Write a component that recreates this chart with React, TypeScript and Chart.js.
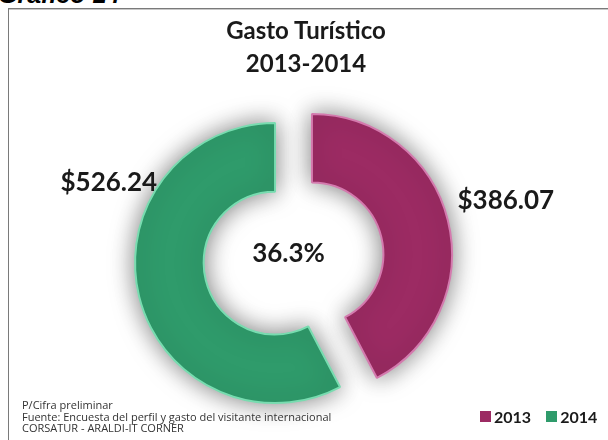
import React, { useEffect, useRef } from "react";
import { Chart, registerables } from "chart.js";

Chart.register(...registerables);

const CATEGORIES = ["2013", "2014"];
const GASTO = [386.07, 526.24];
const COLORS = ["#9c2b63", "#2f9b6b"];
const BORDERS = ["#d47aae", "#78dcb0"];
const TITLE_LINES = ["Gasto Turístico", "2013-2014"];
const HEADER = "Gráfico 14";
const NOTES = [
  "P/Cifra preliminar",
  "Fuente: Encuesta del perfil y gasto del visitante internacional",
  "CORSATUR - ARALDI-IT CORNER",
];

const EXPLODE = 19;
const LABEL_FONT = "bold 26px Lato";

const explodePlugin = {
  id: "explode",
  beforeDatasetDraw(chart: any, args: any) {
    const ctx = chart.ctx;
    args.meta.data.forEach((arc: any) => {
      const mid = (arc.startAngle + arc.endAngle) / 2;
      ctx.save();
      ctx.shadowColor = "rgba(0,0,0,0.5)";
      ctx.shadowBlur = 24;
      ctx.translate(Math.cos(mid) * EXPLODE, Math.sin(mid) * EXPLODE);
      arc.draw(ctx, chart.chartArea);
      ctx.restore();
    });
    return false;
  },
};

const labelPlugin = {
  id: "valueLabels",
  afterDatasetsDraw(chart: any, _args: any, opts: any) {
    const ctx = chart.ctx;
    const meta = chart.getDatasetMeta(0);
    const values = chart.data.datasets[0].data as number[];
    ctx.save();
    ctx.font = LABEL_FONT;
    ctx.fillStyle = "#1a1a1a";
    ctx.textBaseline = "middle";
    meta.data.forEach((arc: any, i: number) => {
      const mid = (arc.startAngle + arc.endAngle) / 2;
      const cx = arc.x + Math.cos(mid) * EXPLODE;
      const cy = arc.y + Math.sin(mid) * EXPLODE;
      const R = arc.outerRadius;
      const rise = opts.rise[i];
      const gap = opts.gap[i];
      const y = cy - rise;
      const half = Math.sqrt(Math.max(R * R - rise * rise, 0));
      const text = "$" + values[i].toFixed(2);
      if (Math.cos(mid) >= 0) {
        ctx.textAlign = "left";
        ctx.fillText(text, cx + half + gap, y);
      } else {
        ctx.textAlign = "right";
        ctx.fillText(text, cx - half - gap, y);
      }
    });
    const a = meta.data[0];
    const growth = ((values[1] - values[0]) / values[0]) * 100;
    ctx.textAlign = "center";
    ctx.fillText(growth.toFixed(1) + "%", a.x - 5, a.y - 5);
    ctx.restore();
  },
};

export default function App() {
  const ref = useRef<HTMLCanvasElement>(null);

  useEffect(() => {
    if (!ref.current) return;
    const chart = new Chart(ref.current, {
      type: "doughnut",
      data: {
        labels: CATEGORIES,
        datasets: [
          {
            data: GASTO,
            backgroundColor: COLORS,
            borderColor: BORDERS,
            borderWidth: 2,
          },
        ],
      },
      options: {
        animation: false,
        responsive: false,
        radius: 140,
        cutout: "51%",
        layout: { padding: { left: 0, right: 21, top: 100, bottom: 23 } },
        plugins: {
          legend: { display: false },
          title: { display: false },
          tooltip: { enabled: false },
          valueLabels: { rise: [53, 80], gap: [16, 3] },
        } as any,
      },
      plugins: [explodePlugin, labelPlugin],
    });
    return () => chart.destroy();
  }, []);

  return (
    <div
      style={{
        position: "fixed",
        left: 0,
        top: 0,
        width: 608,
        height: 440,
        overflow: "hidden",
        background: "#fff",
      }}
    >
      <div
        style={{
          position: "absolute",
          left: -2,
          top: -18,
          font: "italic bold 25px 'Liberation Sans'",
          lineHeight: "25px",
          color: "#000",
          whiteSpace: "nowrap",
        }}
      >
        {HEADER}
      </div>
      <div
        style={{
          position: "absolute",
          left: 8,
          top: 8,
          width: 620,
          height: 460,
          border: "1px solid #7a7a7a",
          boxShadow: "inset 0 1px 0 #c8c8c8",
          boxSizing: "border-box",
        }}
      />
      <canvas
        ref={ref}
        width={608}
        height={440}
        style={{ position: "absolute", left: 0, top: 0, width: 608, height: 440 }}
      />
      <div
        style={{
          position: "absolute",
          left: 0,
          top: 13,
          width: 612,
          textAlign: "center",
          font: "bold 24px Lato",
          lineHeight: "33px",
          color: "#1a1a1a",
        }}
      >
        {TITLE_LINES.map((t) => (
          <div key={t}>{t}</div>
        ))}
      </div>
      <div
        style={{
          position: "absolute",
          left: 22,
          top: 399,
          font: "11px 'Open Sans'",
          lineHeight: "11.5px",
          color: "#333",
          whiteSpace: "nowrap",
        }}
      >
        {NOTES.map((t) => (
          <div key={t}>{t}</div>
        ))}
      </div>
      <div
        style={{
          position: "absolute",
          left: 480,
          top: 406,
          height: 20,
          display: "flex",
          alignItems: "center",
          font: "bold 16px Lato",
          color: "#1a1a1a",
        }}
      >
        {CATEGORIES.map((c, i) => (
          <div key={c} style={{ display: "flex", alignItems: "center", marginRight: 15 }}>
            <span
              style={{
                display: "inline-block",
                width: 11,
                height: 11,
                background: COLORS[i],
                marginRight: 3,
              }}
            />
            <span>{c}</span>
          </div>
        ))}
      </div>
    </div>
  );
}
